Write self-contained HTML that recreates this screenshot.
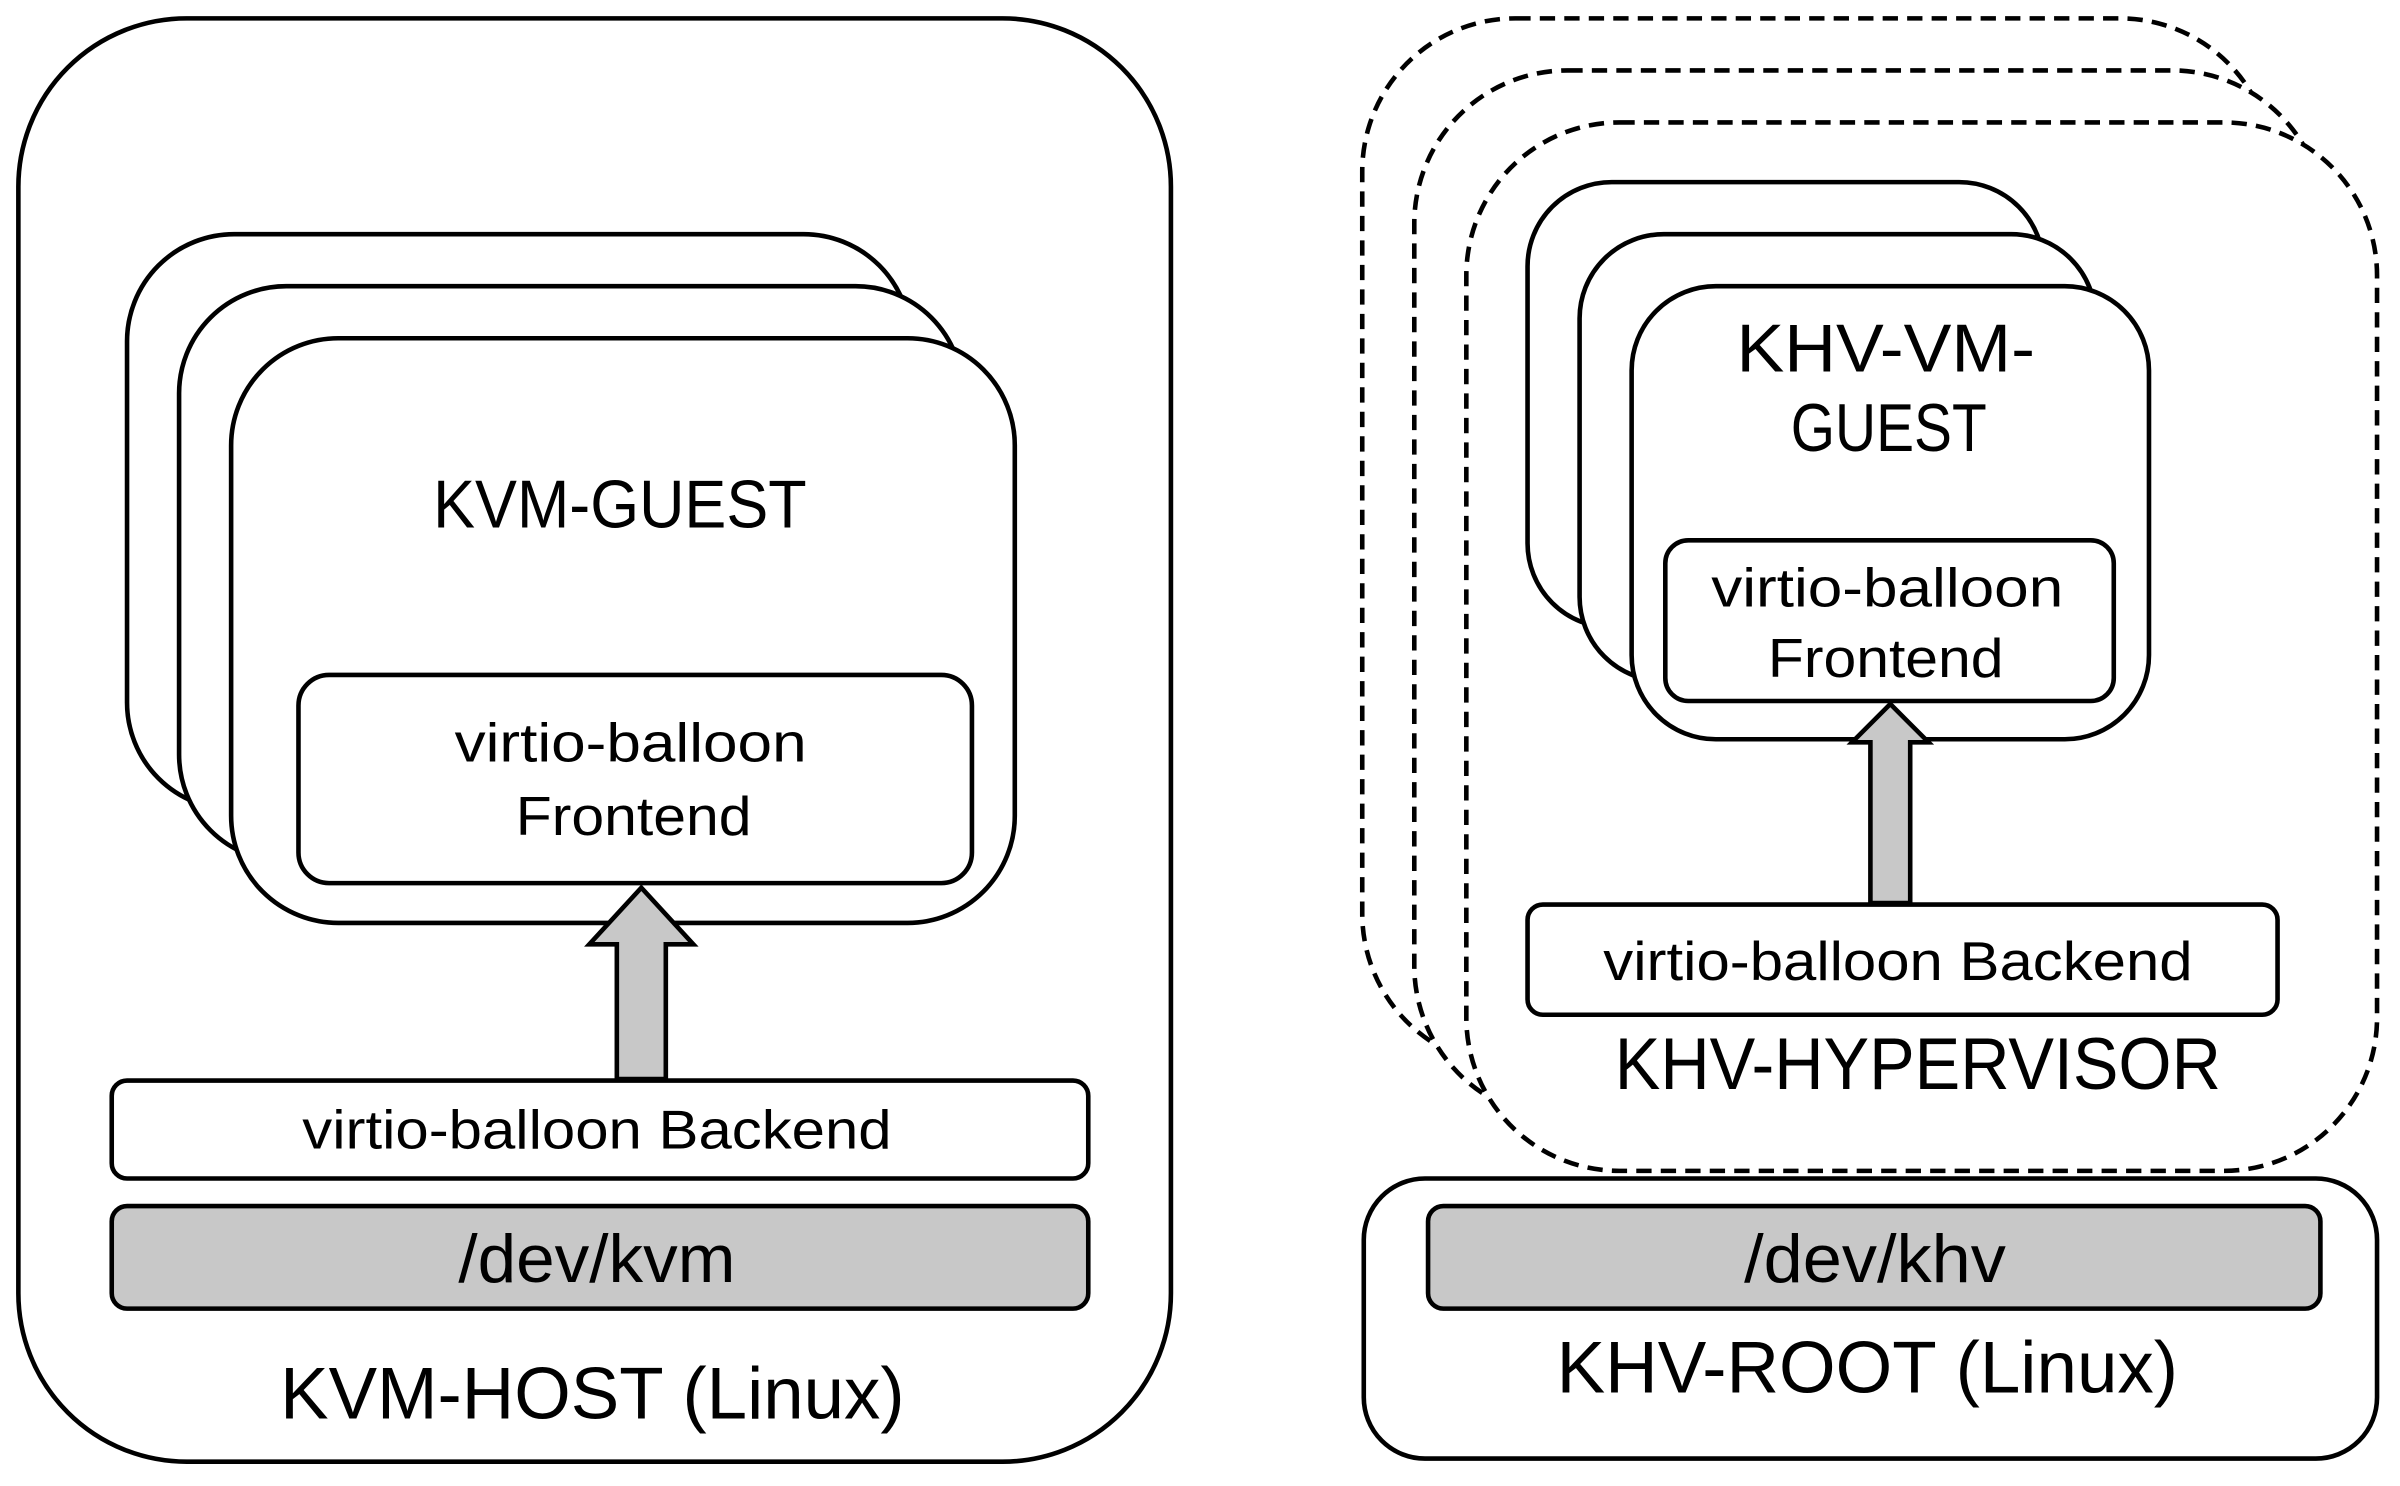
<!DOCTYPE html>
<html><head><meta charset="utf-8"><style>html,body{margin:0;padding:0;background:#fff}svg{display:block}</style></head>
<body>
<svg width="2400" height="1486" viewBox="0 0 1568 970.9" preserveAspectRatio="none" xmlns="http://www.w3.org/2000/svg" font-family="Liberation Sans, sans-serif" fill="none">
<g stroke="#000" stroke-width="3">
<!-- left host -->
<rect x="12" y="12" width="753" height="943" rx="110" fill="#fff"/>
<rect x="83" y="153" width="512" height="376" rx="70" fill="#fff"/>
<rect x="117" y="187" width="512" height="376" rx="70" fill="#fff"/>
<rect x="151" y="221" width="512" height="382" rx="70" fill="#fff"/>
<rect x="195" y="441" width="440" height="136" rx="20" fill="#fff"/>
<path d="M403,705 L403,617 L385,617 L419,580 L453,617 L435,617 L435,705 Z" fill="#c8c8c8"/>
<rect x="73" y="706" width="638" height="64" rx="10" fill="#fff"/>
<rect x="73" y="788" width="638" height="67" rx="10" fill="#c8c8c8"/>
<!-- right -->
<g stroke-dasharray="10,6">
<rect x="890" y="12" width="595" height="685" rx="100" fill="#fff"/>
<rect x="924" y="46" width="595" height="685" rx="100" fill="#fff"/>
<rect x="958" y="80" width="595" height="685" rx="100" fill="#fff"/>
</g>
<rect x="998" y="119" width="337" height="291" rx="55" fill="#fff"/>
<rect x="1032" y="153" width="337" height="292" rx="55" fill="#fff"/>
<rect x="1066" y="187" width="338" height="296" rx="55" fill="#fff"/>
<rect x="1088" y="353" width="293" height="105" rx="15" fill="#fff"/>
<path d="M1222,590 L1222,485 L1210,485 L1235,460 L1260,485 L1248,485 L1248,590 Z" fill="#c8c8c8"/>
<rect x="998" y="591" width="490" height="72" rx="10" fill="#fff"/>
<rect x="891" y="770" width="662" height="183" rx="40" fill="#fff"/>
<rect x="933" y="788" width="583" height="67" rx="10" fill="#c8c8c8"/>
</g>
<g fill="#000" text-anchor="middle" dominant-baseline="central" lengthAdjust="spacingAndGlyphs">
<text x="405" y="330" font-size="44" textLength="244" lengthAdjust="spacingAndGlyphs">KVM-GUEST</text>
<text x="412" y="485" font-size="36" textLength="230" lengthAdjust="spacingAndGlyphs">virtio-balloon</text>
<text x="414" y="533" font-size="36" textLength="154" lengthAdjust="spacingAndGlyphs">Frontend</text>
<text x="390" y="738" font-size="36" textLength="385" lengthAdjust="spacingAndGlyphs">virtio-balloon Backend</text>
<text x="390" y="823" font-size="44" textLength="181" lengthAdjust="spacingAndGlyphs">/dev/kvm</text>
<text x="387" y="910" font-size="48" textLength="408" lengthAdjust="spacingAndGlyphs">KVM-HOST (Linux)</text>
<text x="1232" y="228" font-size="44" textLength="195" lengthAdjust="spacingAndGlyphs">KHV-VM-</text>
<text x="1234" y="280" font-size="44" textLength="128" lengthAdjust="spacingAndGlyphs">GUEST</text>
<text x="1233" y="384" font-size="36" textLength="230" lengthAdjust="spacingAndGlyphs">virtio-balloon</text>
<text x="1232" y="430" font-size="36" textLength="154" lengthAdjust="spacingAndGlyphs">Frontend</text>
<text x="1240" y="628" font-size="36" textLength="385" lengthAdjust="spacingAndGlyphs">virtio-balloon Backend</text>
<text x="1253" y="695" font-size="48" textLength="396" lengthAdjust="spacingAndGlyphs">KHV-HYPERVISOR</text>
<text x="1225" y="823" font-size="44" textLength="171" lengthAdjust="spacingAndGlyphs">/dev/khv</text>
<text x="1220" y="893" font-size="48" textLength="406" lengthAdjust="spacingAndGlyphs">KHV-ROOT (Linux)</text>
</g>
</svg>
</body></html>
